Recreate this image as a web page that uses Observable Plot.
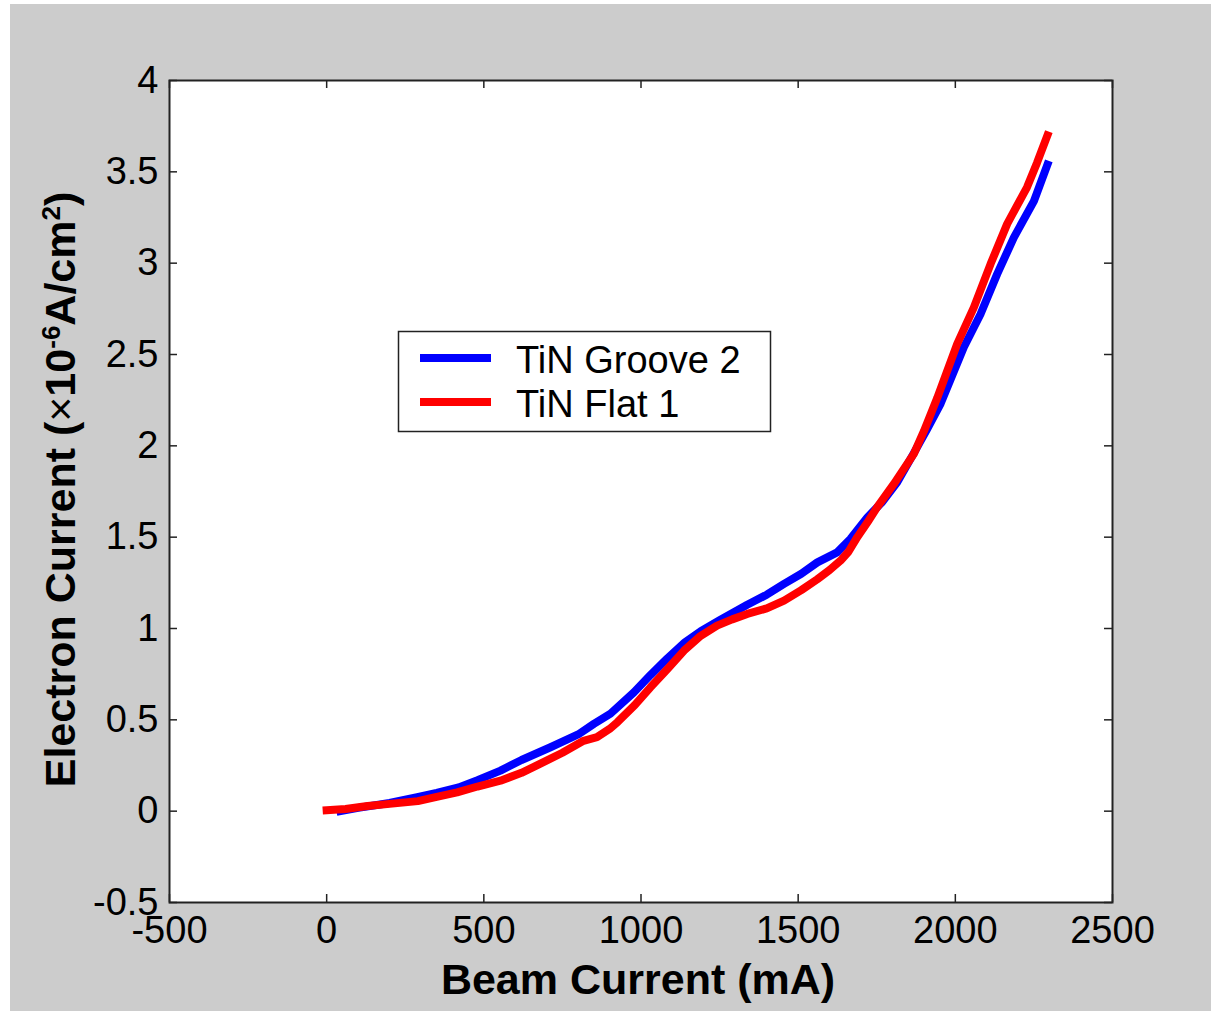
<!DOCTYPE html>
<html><head><meta charset="utf-8">
<script src="https://cdn.jsdelivr.net/npm/d3@7"></script>
<script src="https://cdn.jsdelivr.net/npm/@observablehq/plot@0.6"></script>
<style>
html,body{margin:0;padding:0;background:#fff;}
#wrap{position:relative;width:1211px;height:1011px;overflow:hidden;}
#chart{position:absolute;left:10px;top:4px;}
#legend{position:absolute;left:0;top:0;}
</style></head>
<body><div id="wrap"><div id="chart"></div><svg id="legend" width="1211" height="1011"></svg></div>
<script>
// ---- data ----
const xTicks = [-500, 0, 500, 1000, 1500, 2000, 2500];
const yTicks = [-0.5, 0, 0.5, 1, 1.5, 2, 2.5, 3, 3.5, 4];
const seriesNames = ["TiN Groove 2", "TiN Flat 1"];
const seriesColors = ["#0000ff", "#ff0000"];
const xLabel = "Beam Current (mA)";
const yLabel = "Electron Current (×10-6A/cm2)";

// [beam current (mA), electron current (x1e-6 A/cm^2)]
const groove2Points = [
  [44,0.0],[100,0.018],[200,0.045],[288,0.076],[350,0.10],[420,0.13],[480,0.17],[553,0.222],
  [620,0.28],[712,0.35],[800,0.42],[850,0.478],[903,0.534],[977,0.65],[1030,0.745],[1083,0.835],
  [1140,0.925],[1190,0.985],[1250,1.045],[1338,1.13],[1400,1.185],[1455,1.244],[1510,1.30],
  [1561,1.362],[1624,1.417],[1666,1.49],[1720,1.608],[1766,1.69],[1815,1.80],[1868,1.96],
  [1910,2.09],[1953,2.23],[2027,2.54],[2080,2.72],[2133,2.94],[2186,3.14],[2250,3.34],[2293,3.54]
];
const flat1Points = [
  [0,0.005],[60,0.012],[130,0.028],[200,0.04],[290,0.055],[350,0.078],[415,0.103],[480,0.135],
  [553,0.167],[620,0.21],[680,0.26],[750,0.32],[817,0.385],[860,0.405],[900,0.45],[925,0.487],
  [980,0.58],[1030,0.678],[1085,0.78],[1137,0.879],[1190,0.96],[1242,1.016],[1290,1.05],
  [1338,1.08],[1400,1.11],[1455,1.153],[1510,1.21],[1561,1.27],[1600,1.32],[1635,1.372],
  [1660,1.42],[1688,1.5],[1720,1.58],[1751,1.663],[1804,1.79],[1868,1.956],[1900,2.08],
  [1942,2.26],[2006,2.558],[2059,2.758],[2112,2.995],[2165,3.215],[2228,3.415],[2260,3.55],[2293,3.70]
];

// ---- layout ----
const W = 1201, H = 1007;
const mL = 159, mT = 76, mR = 99, mB = 109;
const innerW = W - mL - mR, innerH = H - mT - mB;
const tickLen = 8;
const font = "'Liberation Sans', Arial, Helvetica, sans-serif";

const rows = [
  ...groove2Points.map(([x, y]) => ({s: seriesNames[0], x, y})),
  ...flat1Points.map(([x, y]) => ({s: seriesNames[1], x, y}))
];

const chart = Plot.plot({
  width: W, height: H,
  marginLeft: mL, marginTop: mT, marginRight: mR, marginBottom: mB,
  style: {background: "#cccccc", fontFamily: font, color: "#000", overflow: "visible"},
  x: {domain: [-500, 2500]},
  y: {domain: [-0.5, 4]},
  color: {domain: seriesNames, range: seriesColors},
  marks: [
    Plot.frame({fill: "white", stroke: "none"}),
    Plot.line(rows, {x: "x", y: "y", z: "s", stroke: "s", strokeWidth: 8,
      strokeLinejoin: "round", strokeLinecap: "square"}),
    Plot.tickX(xTicks, {x: d => d, insetTop: innerH - tickLen, stroke: "#222", strokeWidth: 1.5}),
    Plot.tickX(xTicks, {x: d => d, insetBottom: innerH - tickLen, stroke: "#222", strokeWidth: 1.5}),
    Plot.tickY(yTicks, {y: d => d, insetRight: innerW - tickLen, stroke: "#222", strokeWidth: 1.5}),
    Plot.tickY(yTicks, {y: d => d, insetLeft: innerW - tickLen, stroke: "#222", strokeWidth: 1.5}),
    Plot.frame({stroke: "#222", strokeWidth: 2}),
    Plot.axisX({ticks: xTicks, tickSize: 0, tickPadding: 14, fontSize: 38,
      tickFormat: d => String(d), label: null}),
    Plot.axisY({ticks: yTicks, tickSize: 0, tickPadding: 11, fontSize: 38,
      tickFormat: d => String(d), label: null}),
    Plot.text([xLabel], {frameAnchor: "bottom", text: d => d, lineAnchor: "bottom",
      dy: 91, dx: -3, fontSize: 43, fontWeight: "bold", fill: "#000"}),
    Plot.text([yLabel], {frameAnchor: "left", text: d => d, rotate: -90, lineAnchor: "bottom",
      textAnchor: "middle", dx: -95, dy: -2, fontSize: 43, fontWeight: "bold", fill: "#000"})
  ]
});
document.getElementById("chart").appendChild(chart);

// superscripts in the y label
d3.select(chart).selectAll("text").filter(function() { return this.textContent === yLabel; })
  .each(function() {
    const t = d3.select(this);
    t.attr("text-anchor", "middle");
    t.text(null);
    t.append("tspan").text("Electron Current (");
    t.append("tspan").attr("font-weight", "normal").text("×");
    t.append("tspan").text("10");
    t.append("tspan").attr("font-size", "26").attr("dy", "-15").text("-6");
    t.append("tspan").attr("dy", "15").text("A/cm");
    t.append("tspan").attr("font-size", "26").attr("dy", "-15").text("2");
    t.append("tspan").attr("dy", "15").text(")");
  });

// legend
const lg = d3.select("#legend");
lg.append("rect").attr("x", 398.5).attr("y", 331.5).attr("width", 372).attr("height", 100)
  .attr("fill", "white").attr("stroke", "#222").attr("stroke-width", 1.5);
seriesNames.forEach((name, i) => {
  const cy = 358 + i * 44;
  lg.append("line").attr("x1", 420).attr("x2", 491).attr("y1", cy).attr("y2", cy)
    .attr("stroke", seriesColors[i]).attr("stroke-width", 8);
  lg.append("text").attr("x", 516).attr("y", cy + 15).attr("font-family", font)
    .attr("font-size", 38).attr("fill", "#000").text(name);
});
</script>
</body></html>
